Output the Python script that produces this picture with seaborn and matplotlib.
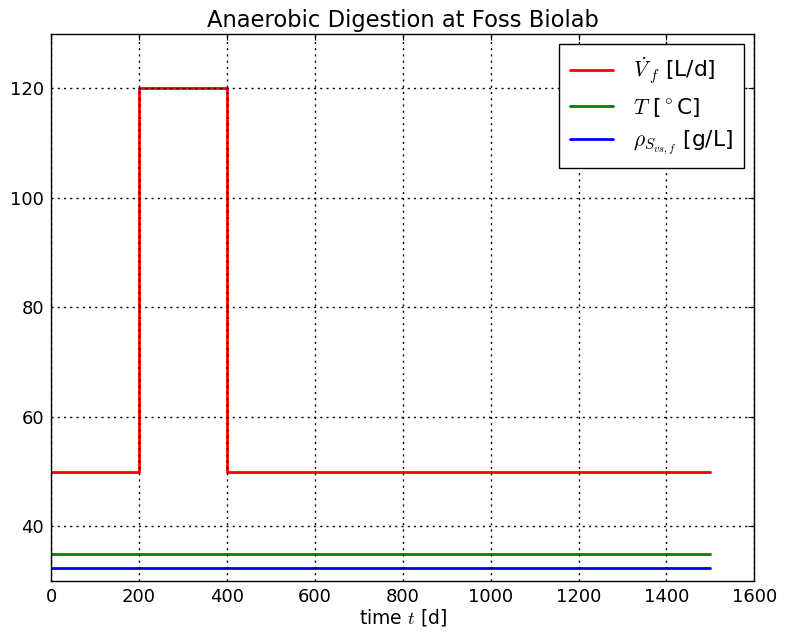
import matplotlib
matplotlib.use("Agg")
import matplotlib.pyplot as plt
import seaborn as sns
import pandas as pd

# data
feed_time = [0, 200, 400, 1500]
feed_rate = [50, 120, 50, 50]          # L/d (step-post)
temp_time = [0, 1500]
temp_val = [35, 35]                    # deg C
rho_time = [0, 1500]
rho_val = [32.4, 32.4]                 # g/L

labels = [r'$\dot V_f$ [L/d]', r'$T$ [$^\circ$C]', r'$\rho_{S_{vs,f}}$ [g/L]']
colors = ['#ff0000', '#008000', '#0000ff']

sns.set_style("white")
plt.rcParams['font.family'] = ['DejaVu Sans']
plt.rcParams['mathtext.fontset'] = 'cm'
plt.rcParams['text.color'] = 'black'
plt.rcParams['axes.labelcolor'] = 'black'
plt.rcParams['xtick.color'] = 'black'
plt.rcParams['ytick.color'] = 'black'

fig = plt.figure(figsize=(7.85, 6.35), dpi=100)
ax = fig.add_axes([0.065, 0.085, 0.896, 0.862])

series = [(feed_time, feed_rate, 'steps-post'),
          (temp_time, temp_val, 'default'),
          (rho_time, rho_val, 'default')]
for (t, v, ds), lab, c in zip(series, labels, colors):
    df = pd.DataFrame({'t': t, 'v': v})
    sns.lineplot(data=df, x='t', y='v', ax=ax, color=c, linewidth=2,
                 drawstyle=ds, label=lab, estimator=None, sort=False)

ax.set_xlim(0, 1600)
ax.set_ylim(30, 130)
ax.set_xticks(range(0, 1601, 200))
ax.set_yticks(range(40, 121, 20))
ax.tick_params(axis='both', which='both', direction='in', length=4, width=0.8,
               top=True, right=True, labelsize=13, colors='black', pad=5)
ax.grid(True, color='black', linestyle=(0, (1.5, 3)), linewidth=1.0)
ax.set_axisbelow(False)
for sp in ax.spines.values():
    sp.set_color('black')
    sp.set_linewidth(1.0)

ax.set_xlabel(r'time $t$ [d]', fontsize=13.5, labelpad=1, color='black')
ax.set_ylabel('')
ax.set_title('Anaerobic Digestion at Foss Biolab', fontsize=16.3, pad=5, color='black')

leg = ax.legend(loc='upper right', fontsize=15.6, frameon=True, fancybox=False,
                edgecolor='black', framealpha=1, borderpad=0.5, handlelength=2.0,
                handletextpad=0.9, labelspacing=0.45, borderaxespad=0.5)
leg.get_frame().set_linewidth(1.0)
for txt in leg.get_texts():
    txt.set_color('black')

fig.savefig('out.png', dpi=100)
